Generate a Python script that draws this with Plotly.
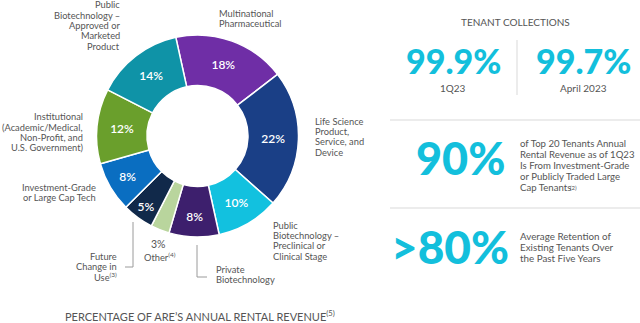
import plotly.graph_objects as go

# Tenant mix by share of annual rental revenue (clockwise from Multinational Pharmaceutical)
segments = [
    "Multinational Pharmaceutical",
    "Life Science Product, Service, and Device",
    "Public Biotechnology - Preclinical or Clinical Stage",
    "Private Biotechnology",
    "Other",
    "Future Change in Use",
    "Investment-Grade or Large Cap Tech",
    "Institutional",
    "Public Biotechnology - Approved or Marketed Product",
]
shares = [18, 22, 10, 8, 3, 5, 8, 12, 14]
colors = ["#6f2ea6", "#1a3f86", "#12c1df", "#3d1f6d", "#b9d59d",
          "#11294a", "#0a6ec1", "#6a9f2c", "#0f93a7"]

# Headline tenant statistics
collections = ["99.9%", "99.7%"]
collection_periods = ["1Q23", "April 2023"]
investment_grade_share = "90%"
retention_rate = ">80%"

W, H = 640, 323
GRAY = "#555555"
CYAN = "#13bfdc"
FONT = "Lato"


def px(x):
    return x / W


def py(y):
    return 1 - y / H


positions = ["none" if s < 4 else "inside" for s in shares]

fig = go.Figure(go.Pie(
    labels=segments,
    values=shares,
    sort=False,
    direction="clockwise",
    rotation=-12.4,
    hole=0.5,
    marker=dict(colors=colors, line=dict(color="white", width=1.5)),
    texttemplate="%{value}%",
    textposition=positions,
    insidetextorientation="horizontal",
    textfont=dict(family=FONT, size=12, color="white", weight=600),
    domain=dict(x=[px(96.5), px(298.5)], y=[py(237), py(35)]),
    showlegend=False,
    hoverinfo="label+percent",
))

annotations = []


def label(text, x, y, xanchor="left", size=9.3, color=GRAY, **kw):
    annotations.append(dict(
        text=text, x=px(x), y=py(y), xref="paper", yref="paper",
        xanchor=xanchor, yanchor="middle", align=xanchor if xanchor != "center" else "center",
        showarrow=False, font=dict(family=FONT, size=size, color=color, **kw),
    ))


def block(lines, x, y0, pitch, xanchor="left", size=9.3):
    # one annotation per line keeps the tight line spacing of the layout
    for i, line in enumerate(lines):
        label(line, x, y0 + i * pitch, xanchor, size)


# Category labels around the donut
block(["Public", "Biotechnology –", "Approved or", "Marketed", "Product"], 122, 5, 10.3, "right")
block(["Multinational", "Pharmaceutical"], 217, 13, 10.3)
block(["Life Science", "Product,", "Service, and", "Device"], 313, 121, 10.4)
block(["Public", "Biotechnology –", "Preclinical or", "Clinical Stage"], 271, 225, 10.4)
block(["Private", "Biotechnology"], 214, 269, 10.4)
other_idx = segments.index("Other")
label(f"{shares[other_idx]}%", 158, 244, "center", size=10.5)
label("Other<sup>(4)</sup>", 160, 257, "center")
block(["Future", "Change in", "Use<sup>(3)</sup>"], 119, 256, 10.5, "right")
block(["Investment-Grade", "or Large Cap Tech"], 98, 187, 10.3, "right")
block(["Institutional", "(Academic/Medical,", "Non-Profit, and", "U.S. Government)"], 85, 117, 10.1, "right")
label("PERCENTAGE OF ARE’S ANNUAL RENTAL REVENUE<sup>(5)</sup>", 200, 315, "center", size=11)

# Right-hand statistics panel
label("TENANT COLLECTIONS", 515, 22, "center", size=10)
for value, period, cx in zip(collections, collection_periods, [453, 583]):
    label(value, cx, 60, "center", size=34, color=CYAN, weight=900)
    label(period, cx, 88, "center", size=10)
label(investment_grade_share, 460, 158, "center", size=45, color=CYAN, weight=900)
block(["of Top 20 Tenants Annual", "Rental Revenue as of 1Q23", "Is From Investment-Grade",
       "or Publicly Traded Large", "Cap Tenants"], 518, 143.5, 11, size=9.6)
label("(2)", 568, 187.5, "left", size=6)
label(retention_rate, 450, 246, "center", size=46, color=CYAN, weight=900)
block(["Average Retention of", "Existing Tenants Over", "the Past Five Years"], 518, 236, 11, size=9.8)

line_style = dict(color="#d9d9d9", width=1)
leader_style = dict(color="#9a9a9a", width=1)
shapes = [
    dict(type="line", xref="paper", yref="paper", x0=px(517), x1=px(517), y0=py(40), y1=py(95), line=line_style),
    dict(type="line", xref="paper", yref="paper", x0=px(390), x1=1, y0=py(120), y1=py(120), line=line_style),
    dict(type="line", xref="paper", yref="paper", x0=px(390), x1=1, y0=py(208), y1=py(208), line=line_style),
    # leader for Future Change in Use
    dict(type="path", xref="paper", yref="paper",
         path=f"M {px(133)},{py(222)} L {px(133)},{py(267)} L {px(125)},{py(267)}", line=leader_style),
    # leader for Private Biotechnology
    dict(type="path", xref="paper", yref="paper",
         path=f"M {px(197)},{py(245)} L {px(197)},{py(277)} L {px(207)},{py(277)}", line=leader_style),
]

fig.update_layout(
    width=W, height=H,
    margin=dict(l=0, r=0, t=0, b=0),
    paper_bgcolor="white", plot_bgcolor="white",
    annotations=annotations, shapes=shapes,
    font=dict(family=FONT),
)

fig.write_html("out.html")
